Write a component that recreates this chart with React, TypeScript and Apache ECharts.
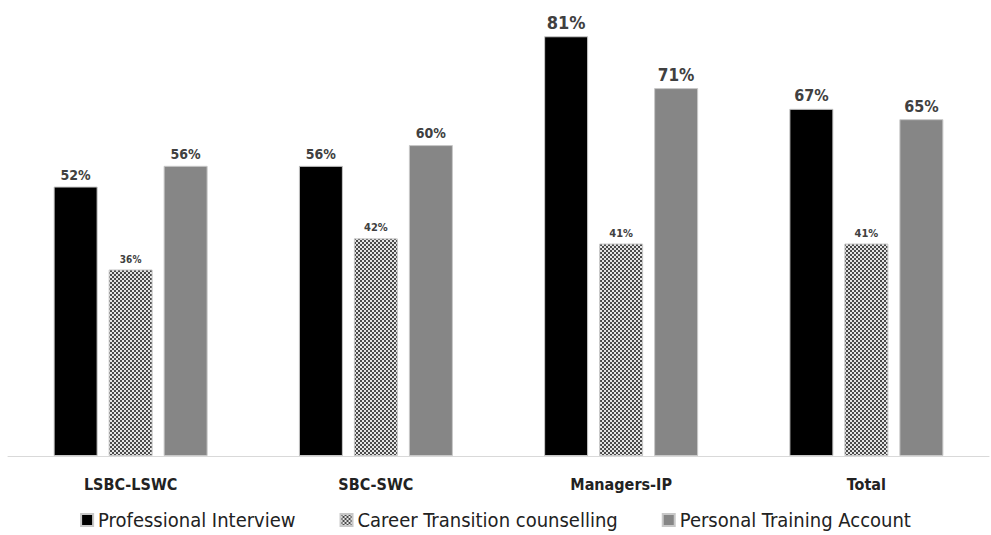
import React, { useEffect, useRef } from "react";
import * as echarts from "echarts";

const categories = ["LSBC-LSWC", "SBC-SWC", "Managers-IP", "Total"];
const seriesNames = ["Professional Interview", "Career Transition counselling", "Personal Training Account"];
const professionalInterview = [52, 56, 81, 67];
const careerTransition = [36, 42, 41, 41];
const personalTraining = [56, 60, 71, 65];

const labelSizes = [
  [14, 14, 18, 16],
  [10, 11, 11, 11],
  [14, 14, 17, 16],
];

const FONT = "'Liberation Sans Narrow', 'DejaVu Sans Condensed', 'Open Sans', sans-serif";

function makePattern(): HTMLCanvasElement {
  const c = document.createElement("canvas");
  c.width = 4;
  c.height = 4;
  const ctx = c.getContext("2d")!;
  ctx.fillStyle = "#e4e4e4";
  ctx.fillRect(0, 0, 4, 4);
  ctx.fillStyle = "#4a4a4a";
  ctx.fillRect(0, 0, 2, 2);
  ctx.fillRect(2, 2, 2, 2);
  return c;
}

export default function App() {
  const ref = useRef<HTMLDivElement>(null);
  useEffect(() => {
    document.body.style.margin = "0";
    const chart = echarts.init(ref.current!, null, { renderer: "svg" });
    const pattern = { image: makePattern(), repeat: "repeat" as const };
    const colors: any[] = ["#000000", pattern, "#868686"];
    const values = [professionalInterview, careerTransition, personalTraining];
    chart.setOption({
      animation: false,
      grid: { left: 8, right: 2, top: 0, bottom: 79, containLabel: false },
      legend: {
        bottom: 0,
        left: "center",
        icon: "rect",
        itemWidth: 12,
        itemHeight: 12,
        itemGap: 44,
        textStyle: { fontFamily: FONT, fontSize: 20, color: "#222" },
        data: seriesNames,
      },
      xAxis: {
        type: "category",
        data: categories,
        axisLine: { lineStyle: { color: "#d9d9d9", width: 1 } },
        axisTick: { show: false },
        axisLabel: { fontFamily: FONT, fontWeight: "bold", fontSize: 16, color: "#222", margin: 20 },
      },
      yAxis: {
        type: "value",
        min: 0,
        max: 88,
        show: false,
        splitLine: { show: false },
      },
      series: seriesNames.map((name, si) => ({
        name,
        type: "bar",
        barWidth: 44,
        barGap: "25%",
        itemStyle: { color: colors[si], borderColor: "#c8c8c8", borderWidth: 1 },
        label: {
          show: true,
          position: "top",
          distance: 5,
          formatter: "{c}%",
          fontFamily: FONT,
          fontWeight: "bold",
          color: "#404040",
        },
        data: values[si].map((v, i) => ({ value: v, label: { fontSize: labelSizes[si][i] } })),
      })),
    });
    return () => chart.dispose();
  }, []);
  return <div ref={ref} style={{ width: 991, height: 535 }} />;
}
